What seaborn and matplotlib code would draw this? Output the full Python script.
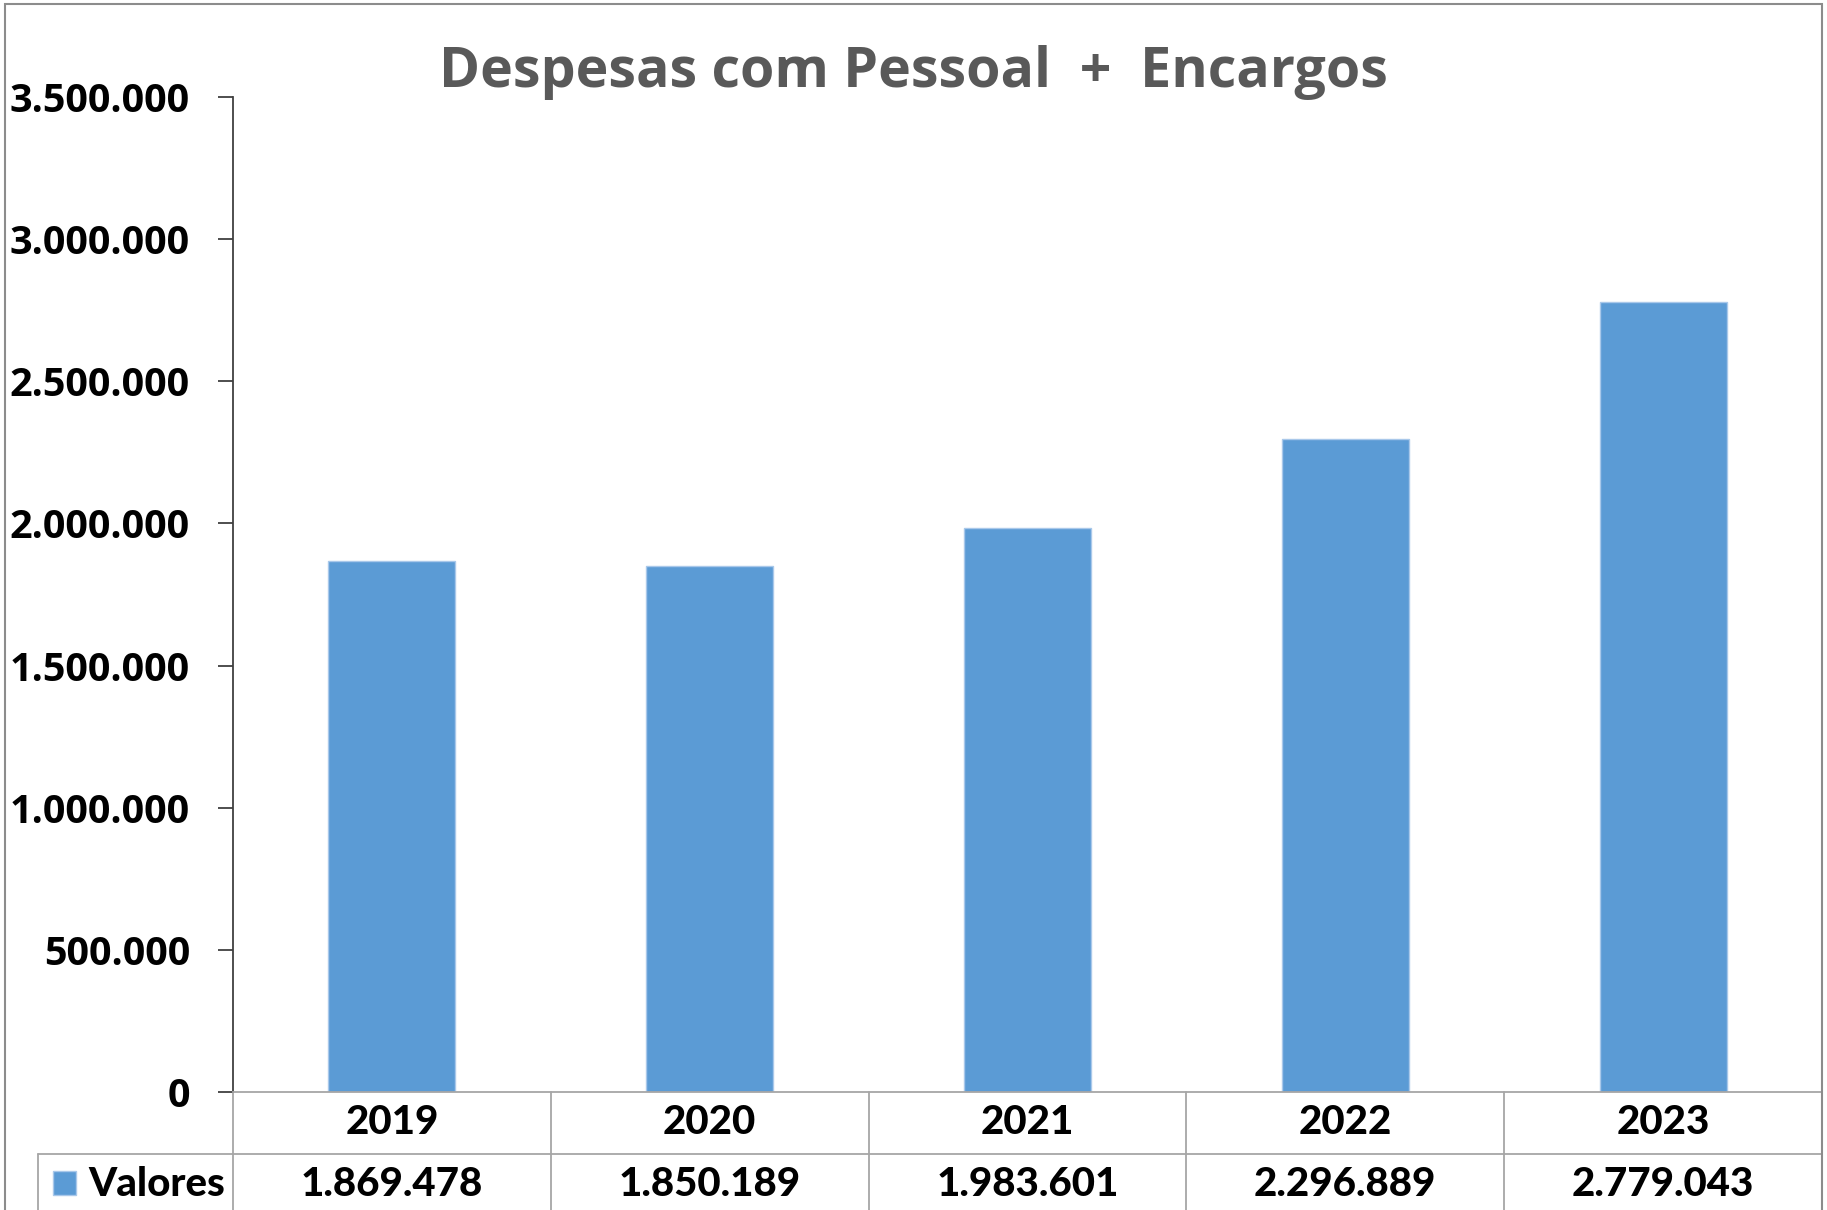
import matplotlib
matplotlib.use("Agg")
import matplotlib.pyplot as plt
import seaborn as sns
import pandas as pd
from matplotlib import font_manager
from matplotlib.patches import Rectangle
from matplotlib.lines import Line2D
from matplotlib.ticker import FuncFormatter, MultipleLocator

# ---- data ----
anos = ["2019", "2020", "2021", "2022", "2023"]
valores = [1869478, 1850189, 1983601, 2296889, 2779043]
serie = "Valores"
titulo = "Despesas com Pessoal  +  Encargos"

df = pd.DataFrame({"ano": anos, "valor": valores})

def br(v):
    return f"{int(v):,}".replace(",", ".")

# ---- style ----
sns.set_theme(style="white")
lato_weights = sorted({f.weight for f in font_manager.fontManager.ttflist if f.name == "Lato"},
                      key=str)
print("Lato weights:", lato_weights)
plt.rcParams["font.family"] = ["Open Sans", "DejaVu Sans"]
TAB_FONT = ["Lato", "DejaVu Sans"]

W, H = 1827, 1210
BLUE = "#5B9BD5"
GRID = "#A6A6A6"

fig = plt.figure(figsize=(W / 100, H / 100), dpi=100)
ax = fig.add_axes([233 / W, (H - 1092) / H, (1822 - 233) / W, 995 / H])

sns.barplot(data=df, x="ano", y="valor", color=BLUE, width=0.4,
            saturation=1, edgecolor="#A9C8EA", linewidth=1, ax=ax)

ax.set_xlim(-0.5, len(anos) - 0.5)
ax.set_ylim(0, 3500000)
ax.yaxis.set_major_locator(MultipleLocator(500000))
ax.yaxis.set_major_formatter(FuncFormatter(lambda v, p: br(v)))
ax.set_xlabel("")
ax.set_ylabel("")
ax.set_xticks([])
ax.tick_params(axis="y", left=True, length=15 * 0.72, width=1.3, color="#404040",
               pad=28 * 0.72, labelsize=28.5, labelcolor="black")
for lab in ax.get_yticklabels():
    lab.set_fontweight("bold")

for s in ["top", "right"]:
    ax.spines[s].set_visible(False)
ax.spines["left"].set_color("#404040")
ax.spines["left"].set_linewidth(1.3)
ax.spines["bottom"].set_color(GRID)
ax.spines["bottom"].set_linewidth(1.3)

# ---- data table under the axis ----
tr = ax.get_xaxis_transform()
row_h = 62 / 995
n = len(anos)
x_left_leg = ax.transData.inverted().transform(fig.transFigure.transform((38 / W, 0)))[0]
ax.add_line(Line2D([x_left_leg, n - 0.5], [-row_h, -row_h], transform=tr,
                   color=GRID, lw=1.3, clip_on=False))
for i in range(n + 1):
    ax.add_line(Line2D([i - 0.5, i - 0.5], [0, -3 * row_h], transform=tr,
                       color=GRID, lw=1.3, clip_on=False))
ax.add_line(Line2D([x_left_leg, x_left_leg], [-row_h, -3 * row_h], transform=tr,
                   color=GRID, lw=1.3, clip_on=False))

for i, (a, v) in enumerate(zip(anos, valores)):
    ax.text(i, -row_h / 2, a, transform=tr, ha="center", va="center",
            fontsize=29, fontweight="black", family=TAB_FONT, color="black")
    ax.text(i, -1.5 * row_h, br(v), transform=tr, ha="center", va="center",
            fontsize=29, fontweight="black", family=TAB_FONT, color="black")

# legend key in table
fig.patches.append(Rectangle((53 / W, (H - 1195) / H), 23 / W, 24 / H,
                             transform=fig.transFigure, facecolor=BLUE,
                             edgecolor="#A9C8EA", lw=1))
fig.text(88 / W, (H - 1185) / H, serie, ha="left", va="center", fontsize=29,
         fontweight="black", family=TAB_FONT, color="black")

# title
fig.text(0.5, 1 - 72 / H, titulo, ha="center", va="center", fontsize=40,
         fontweight="bold", color="#595959")

# outer chart border
fig.patches.append(Rectangle((5 / W, -0.1), (1822 - 5) / W, 1.1 - 4 / H,
                             transform=fig.transFigure, fill=False,
                             edgecolor="#8C8C8C", lw=1.5))

fig.savefig("out.png", dpi=100)
